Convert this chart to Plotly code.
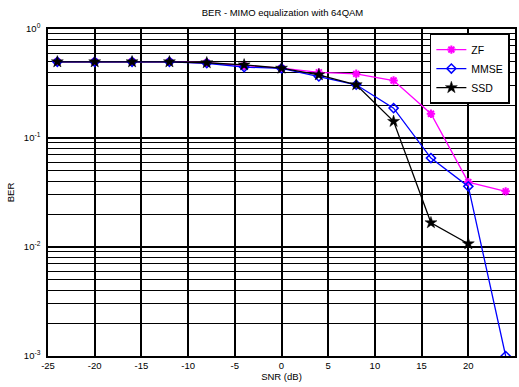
import plotly.graph_objects as go

# SNR sweep (dB) and measured bit error rates for each equalizer
snr_db = [-24, -20, -16, -12, -8, -4, 0, 4, 8, 12, 16, 20, 24]
ber_zf = [0.50, 0.50, 0.50, 0.50, 0.49, 0.46, 0.437, 0.40, 0.388, 0.337, 0.167, 0.0394, 0.0324]
ber_mmse = [0.50, 0.50, 0.50, 0.50, 0.485, 0.447, 0.435, 0.367, 0.308, 0.188, 0.0654, 0.036, 0.001]
snr_ssd = [-24, -20, -16, -12, -8, -4, 0, 4, 8, 12, 16, 20]
ber_ssd = [0.50, 0.50, 0.50, 0.50, 0.49, 0.469, 0.437, 0.38, 0.308, 0.142, 0.0167, 0.0107]

x_ticks = [-25, -20, -15, -10, -5, 0, 5, 10, 15, 20, 25]
y_ticks = [1e-3, 1e-2, 1e-1, 1]
y_ticklabels = ["10<sup>-3</sup>", "10<sup>-2</sup>", "10<sup>-1</sup>", "10<sup>0</sup>"]

FONT = "Liberation Sans, Arial, sans-serif"

fig = go.Figure()
fig.add_trace(go.Scatter(
    x=snr_db, y=ber_zf, name="ZF", mode="lines+markers",
    line=dict(color="#ff00ff", width=1.3),
    marker=dict(symbol="asterisk-open", size=7, color="#ff00ff",
                line=dict(color="#ff00ff", width=2)),
))
fig.add_trace(go.Scatter(
    x=snr_db, y=ber_mmse, name="MMSE", mode="lines+markers",
    line=dict(color="#0000ff", width=1.3),
    marker=dict(symbol="diamond-open", size=7, color="#0000ff",
                line=dict(color="#0000ff", width=1.5)),
))
fig.add_trace(go.Scatter(
    x=snr_ssd, y=ber_ssd, name="SSD", mode="lines+markers",
    line=dict(color="black", width=1.3),
    marker=dict(symbol="star", size=9, color="black",
                line=dict(color="black", width=0.5)),
))

fig.update_layout(
    width=519, height=387,
    margin=dict(l=48, r=2, t=29, b=31),
    paper_bgcolor="white", plot_bgcolor="white",
    font=dict(family=FONT, size=9.5, color="black"),
    title=dict(text="BER - MIMO equalization with 64QAM",
               x=(48 + 469 / 2) / 519, xanchor="center",
               y=1 - 13 / 387, yanchor="middle", yref="container",
               font=dict(size=9.5)),
    showlegend=True,
    legend=dict(x=0.989, y=0.986, xanchor="right", yanchor="top",
                bgcolor="white", bordercolor="black", borderwidth=1.5,
                font=dict(size=10.5), tracegroupgap=0, itemwidth=30),
)

fig.update_xaxes(
    range=[-25, 25], tickvals=x_ticks, ticktext=[str(v) for v in x_ticks],
    showgrid=True, gridcolor="black", gridwidth=1.5,
    showline=True, linecolor="black", linewidth=1.5, mirror=True,
    zeroline=False, ticks="", tickfont=dict(size=9.5),
    title=dict(text="SNR (dB)", font=dict(size=9.5), standoff=3),
)
fig.update_yaxes(
    type="log", range=[-3, 0], tickvals=y_ticks, ticktext=y_ticklabels,
    showgrid=True, gridcolor="black", gridwidth=1.5,
    minor=dict(showgrid=True, gridcolor="black", gridwidth=1.2, dtick="D1"),
    showline=True, linecolor="black", linewidth=1.5, mirror=True,
    zeroline=False, ticks="", tickfont=dict(size=9.5), ticklabelstandoff=4,
    title=dict(text="BER", font=dict(size=9.5), standoff=8),
)

fig.write_html("out.html")
